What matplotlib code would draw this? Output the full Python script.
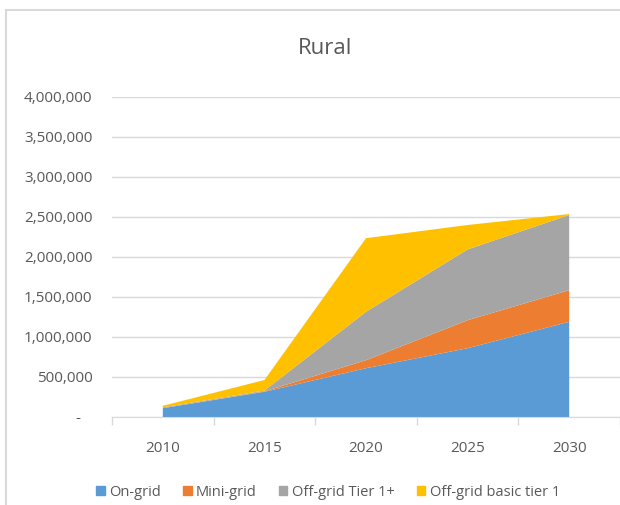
import matplotlib.pyplot as plt
from matplotlib.ticker import FuncFormatter, FixedLocator
from matplotlib.lines import Line2D

# Data
years = ['2010', '2015', '2020', '2025', '2030']
on_grid = [110000, 315000, 610000, 860000, 1190000]
mini_grid = [0, 5000, 100000, 350000, 395000]
off_grid_tier1plus = [10000, 10000, 605000, 885000, 940000]
off_grid_basic = [20000, 132000, 920000, 305000, 12000]

series_names = ['On-grid', 'Mini-grid', 'Off-grid Tier 1+', 'Off-grid basic tier 1']
colors = ['#5B9BD5', '#ED7D31', '#A5A5A5', '#FFC000']

plt.rcParams['font.family'] = ['Open Sans', 'DejaVu Sans']

fig = plt.figure(figsize=(6.2, 5.05), dpi=100)
W, H = 620, 505
ax = fig.add_axes([112 / W, 1 - 417 / H, (620 - 112) / W, (417 - 97) / H])

x = list(range(len(years)))
ax.stackplot(x, on_grid, mini_grid, off_grid_tier1plus, off_grid_basic,
             colors=colors, labels=series_names, zorder=3)

ax.set_xlim(-0.5, len(years) - 0.5)
ax.set_ylim(0, 4000000)
ax.set_yticks(range(0, 4000001, 500000))
ax.yaxis.set_major_formatter(FuncFormatter(lambda v, p: '-   ' if v == 0 else f'{int(v):,}'))
ax.set_xticks(x)
ax.set_xticklabels(years)
ax.xaxis.set_minor_locator(FixedLocator([i - 0.5 for i in range(len(years) + 1)]))
ax.tick_params(axis='x', which='major', length=0, pad=17, labelsize=11, colors='#595959')
ax.tick_params(axis='x', which='minor', length=6, color='#d9d9d9', width=1)
ax.tick_params(axis='y', length=0, pad=14, labelsize=11, colors='#595959')

ax.grid(axis='y', color='#d9d9d9', linewidth=1, zorder=0)
for s in ['top', 'right', 'left']:
    ax.spines[s].set_visible(False)
ax.spines['bottom'].set_color('#d9d9d9')
ax.spines['bottom'].set_zorder(4)

fig.text(325 / W, 1 - 48 / H, 'Rural', ha='center', va='center', fontsize=16, color='#595959')

# frame lines around the chart area
fig.add_artist(Line2D([6 / W, 6 / W], [0, 1 - 10 / H], color='#d9d9d9', linewidth=1.5))
fig.add_artist(Line2D([6 / W, 1], [1 - 10 / H, 1 - 10 / H], color='#d9d9d9', linewidth=1.5))

handles = [plt.Rectangle((0, 0), 1, 1, color=c) for c in colors]
fig.legend(handles, series_names, loc='center', bbox_to_anchor=(328 / W, 1 - 492 / H),
           ncol=4, frameon=False, fontsize=10.5, handlelength=0.6, handleheight=0.6,
           handletextpad=0.3, columnspacing=1.5, labelcolor='#595959')

fig.savefig('out.png', dpi=100)
